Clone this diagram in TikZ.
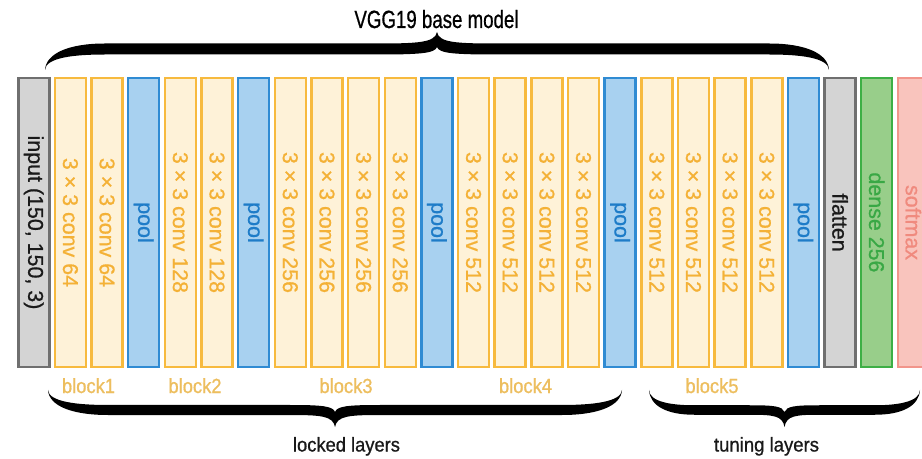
\documentclass[tikz,border=0pt]{standalone}
\usepackage{fontspec}
\setmainfont{Liberation Sans}[FakeBold=0.8]
\usepackage{graphicx}
\definecolor{convF}{HTML}{FEF2D8}
\definecolor{convD}{HTML}{F7BA3E}
\definecolor{convT}{HTML}{F4B136}
\definecolor{poolF}{HTML}{A8D1F0}
\definecolor{poolD}{HTML}{2F8BD3}
\definecolor{poolT}{HTML}{1E7CC8}
\definecolor{grayF}{HTML}{D4D4D4}
\definecolor{grayD}{HTML}{6F6F6F}
\definecolor{grayT}{HTML}{1A1A1A}
\definecolor{denseF}{HTML}{98CE8A}
\definecolor{denseD}{HTML}{3DAF45}
\definecolor{denseT}{HTML}{39A845}
\definecolor{softF}{HTML}{F9C4BD}
\definecolor{softD}{HTML}{F2958B}
\definecolor{softT}{HTML}{F08A7E}
\definecolor{blockT}{HTML}{EDBE5E}
% tapered brace: #1 cx, #2 y0, #3 W, #4 sign, #5 a, #6 D, #7 t, #8 q, #9 p
\newcommand{\tapbrace}[9]{%
\fill[black, shift={(#1,#2)}, yscale=#4]
 (-#3,0) .. controls ({-#3+1},{0.8*#5}) and ({-#3+0.4*#8},{#5+#7/2}) .. ({-#3+#8},{#5+#7/2})
 -- ({-#9},{#5+#7/2})
 .. controls ({-0.3*#9},{#5+#7/2}) and (-2,{#5+#7/2+1}) .. (0,#6)
 .. controls (2,{#5+#7/2+1}) and ({0.3*#9},{#5+#7/2}) .. ({#9},{#5+#7/2})
 -- ({#3-#8},{#5+#7/2})
 .. controls ({#3-0.4*#8},{#5+#7/2}) and ({#3-1},{0.8*#5}) .. (#3,0)
 .. controls ({#3-0.5},{0.6*#5}) and ({#3-0.5*#8},{#5-#7/2}) .. ({#3-#8},{#5-#7/2})
 -- ({#9},{#5-#7/2})
 .. controls ({0.3*#9},{#5-#7/2}) and (2,{#5-#7/2+1}) .. (0,{#5+2})
 .. controls (-2,{#5-#7/2+1}) and ({-0.3*#9},{#5-#7/2}) .. ({-#9},{#5-#7/2})
 -- ({-#3+#8},{#5-#7/2})
 .. controls ({-#3+0.5*#8},{#5-#7/2}) and ({-#3+0.5},{0.6*#5}) .. (-#3,0) -- cycle;}
\begin{document}
\begin{tikzpicture}[x=1bp,y=-1bp,
  layer/.style={draw, line width=2.5bp, rotate=-90, minimum width=288.5bp,
    minimum height=31bp, inner sep=0pt, font=\fontsize{21.5}{24}\selectfont},
  conv/.style={layer, draw=convD, fill=convF, text=convT},
  pool/.style={layer, draw=poolD, fill=poolF, text=poolT},
  gbox/.style={layer, draw=grayD, fill=grayF, text=grayT},
  dense/.style={layer, draw=denseD, fill=denseF, text=denseT},
  soft/.style={layer, draw=softD, fill=softF, text=softT},
  blk/.style={text=blockT, anchor=base, inner sep=0pt, font=\fontsize{20.5}{24}\selectfont},
  captxt/.style={text=black!90, anchor=base, inner sep=0pt, font=\fontsize{20}{24}\selectfont}]
\useasboundingbox (0,0) rectangle (922,459);
\fill[white] (0,0) rectangle (922,459);
\foreach \typ/\txt [count=\i from 0] in {
  gbox/{input (150, 150, 3)},
  conv/{3 × 3 conv 64}, conv/{3 × 3 conv 64}, pool/{pool},
  conv/{3 × 3 conv 128}, conv/{3 × 3 conv 128}, pool/{pool},
  conv/{3 × 3 conv 256}, conv/{3 × 3 conv 256}, conv/{3 × 3 conv 256}, conv/{3 × 3 conv 256}, pool/{pool},
  conv/{3 × 3 conv 512}, conv/{3 × 3 conv 512}, conv/{3 × 3 conv 512}, conv/{3 × 3 conv 512}, pool/{pool},
  conv/{3 × 3 conv 512}, conv/{3 × 3 conv 512}, conv/{3 × 3 conv 512}, conv/{3 × 3 conv 512}, pool/{pool},
  gbox/{flatten}, dense/{dense 256}, soft/{softmax}}
  \node[\typ] (L\i) at ({33.75+36.65*\i},222.5) {\txt};
% title
\node[anchor=base, inner sep=0pt, font=\fontsize{25}{28}\selectfont] (title) at (436.5,28) {\scalebox{0.75}[1]{VGG19 base model}};
% block labels
\node[blk] (b1) at (88.5,393) {\scalebox{0.9}[1]{block1}};
\node[blk] (b2) at (195,393) {\scalebox{0.9}[1]{block2}};
\node[blk] (b3) at (346,393) {\scalebox{0.9}[1]{block3}};
\node[blk] (b4) at (525.5,393) {\scalebox{0.9}[1]{block4}};
\node[blk] (b5) at (712,393) {\scalebox{0.9}[1]{block5}};
% bottom captions
\node[captxt] (locked) at (346.5,451.5) {\scalebox{0.92}[1]{locked layers}};
\node[captxt] (tuning) at (766.5,451.5) {\scalebox{0.93}[1]{tuning layers}};
% braces
\tapbrace{437}{70}{392}{-1}{21}{38}{11}{60}{60}
\tapbrace{335}{390}{287}{1}{20}{37}{10}{60}{45}
\tapbrace{784.5}{390}{135.5}{1}{20}{37}{9.5}{45}{35}
\end{tikzpicture}
\end{document}
